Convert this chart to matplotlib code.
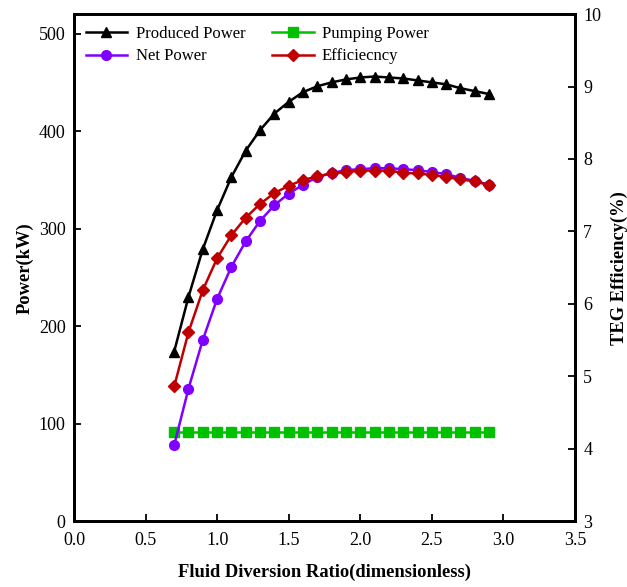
import matplotlib
matplotlib.use('Agg')
import matplotlib.pyplot as plt

plt.rcParams['font.family'] = ['Liberation Serif', 'DejaVu Serif']

ratio = [0.7, 0.8, 0.9, 1.0, 1.1, 1.2, 1.3, 1.4, 1.5, 1.6, 1.7, 1.8,
         1.9, 2.0, 2.1, 2.2, 2.3, 2.4, 2.5, 2.6, 2.7, 2.8, 2.9]

produced = [174, 230, 279, 319, 353, 380, 401, 418, 430, 440, 446, 450,
            453, 455, 456, 455, 454, 452, 450, 448, 444, 441, 438]
pumping = [92] * len(ratio)
net = [78, 136, 186, 228, 261, 287, 308, 324, 336, 345, 353, 357,
       360, 361, 362, 362, 361, 360, 358, 356, 352, 349, 345]
efficiency = [4.86, 5.61, 6.19, 6.63, 6.95, 7.19, 7.38, 7.53, 7.63, 7.71, 7.76, 7.80,
              7.82, 7.84, 7.84, 7.84, 7.81, 7.80, 7.78, 7.75, 7.72, 7.69, 7.64]

fig = plt.figure(figsize=(6.27, 5.87), dpi=100)
ax = fig.add_axes([0.118, 0.112, 0.799, 0.864])
ax2 = ax.twinx()

l1, = ax.plot(ratio, produced, color='black', marker='^', ms=7, lw=1.8, label='Produced Power')
l3, = ax.plot(ratio, pumping, color='#00c000', marker='s', ms=6.5, lw=1.8, label='Pumping Power')
l2, = ax.plot(ratio, net, color='#8000ff', marker='o', ms=7, lw=1.8, label='Net Power')
l4, = ax2.plot(ratio, efficiency, color='#c00000', marker='D', ms=6.5, lw=1.8, label='Efficiecncy')

ax.set_xlim(0, 3.5)
ax.set_ylim(0, 520)
ax2.set_ylim(3, 10)
ax.set_xticks([0.0, 0.5, 1.0, 1.5, 2.0, 2.5, 3.0, 3.5])
ax.set_yticks([0, 100, 200, 300, 400, 500])
ax2.set_yticks([3, 4, 5, 6, 7, 8, 9, 10])

for a in (ax, ax2):
    a.tick_params(direction='in', length=5, width=1.3, labelsize=13)
    for s in a.spines.values():
        s.set_linewidth(2)
ax.tick_params(axis='x', pad=8)
ax.tick_params(axis='y', pad=6)
ax2.tick_params(axis='y', pad=6)

ax.set_xlabel('Fluid Diversion Ratio(dimensionless)', fontsize=13.3, fontweight='bold', labelpad=10)
ax.set_ylabel('Power(kW)', fontsize=13.3, fontweight='bold', labelpad=4)
ax2.set_ylabel('TEG Efficiency(%)', fontsize=13.3, fontweight='bold', labelpad=7)

ax.legend(handles=[l1, l2, l3, l4], ncol=2, loc='upper left', frameon=False,
          fontsize=12, handlelength=2.5, handletextpad=0.5, columnspacing=1.6,
          labelspacing=0.4, borderaxespad=0.3)

fig.savefig('out.png', dpi=100)
